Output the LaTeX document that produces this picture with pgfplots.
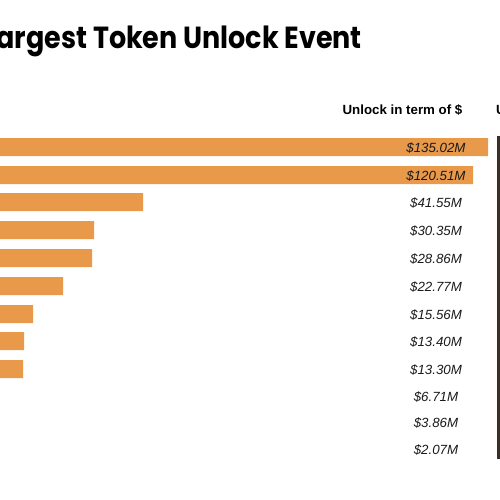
\documentclass[border=0pt]{standalone}
\usepackage{fontspec}
\setmainfont{Liberation Sans}
\newfontfamily\poppins{Poppins}
\usepackage{pgfplots}
\pgfplotsset{compat=1.18}
\usepackage{pgfplotstable}
\definecolor{barorange}{RGB}{232,153,74}
\definecolor{linebrown}{RGB}{58,47,38}
% y = bar centre (px from top), len = bar length (bars start off-page)
\pgfplotstableread{
y   len
147 548
175 533
202 203
230 154
258 152
286 123
314 93
341 84
369 83
397 40
425 25
452 12
}\bars
\begin{document}
\begin{tikzpicture}
\begin{axis}[
  at={(-10bp,0)}, anchor=south west,
  scale only axis, width=510bp, height=500bp,
  xmin=50, xmax=560, ymin=0, ymax=500,
  y dir=reverse, hide axis,
  xbar, bar width=18,
]
\addplot[fill=barorange, draw=none] table[x=len, y=y] {\bars};
\end{axis}
% title
\node[anchor=base east, font=\poppins\bfseries\fontsize{30.5bp}{34bp}\selectfont, inner sep=0pt, xscale=0.885, transform shape]
  at (362bp,451bp) {Largest Token Unlock Event};
% column header
\node[anchor=base, font=\bfseries\fontsize{13.3bp}{15bp}\selectfont, inner sep=0pt]
  at (402.5bp,385bp) {Unlock in term of \$};
\node[anchor=base west, font=\bfseries\fontsize{13.3bp}{15bp}\selectfont, inner sep=0pt]
  at (496bp,385bp) {Unlock \%};
% value labels
\foreach \yy/\lab in {147/135.02, 175/120.51, 202/41.55, 230/30.35, 258/28.86, 286/22.77, 314/15.56, 341/13.40, 369/13.30, 396/6.71, 422/3.86, 449/2.07}
  \node[anchor=base, font=\itshape\fontsize{13.3bp}{15bp}\selectfont, inner sep=0pt, text=black!90]
    at (436bp,{(495-\yy)*1bp}) {\$\lab M};
% right divider
\draw[linebrown, line width=2.5bp] (498.5bp,364bp) -- (498.5bp,41bp);
\pgfresetboundingbox
\path (0,0) rectangle (500bp,500bp);
\end{tikzpicture}
\end{document}
